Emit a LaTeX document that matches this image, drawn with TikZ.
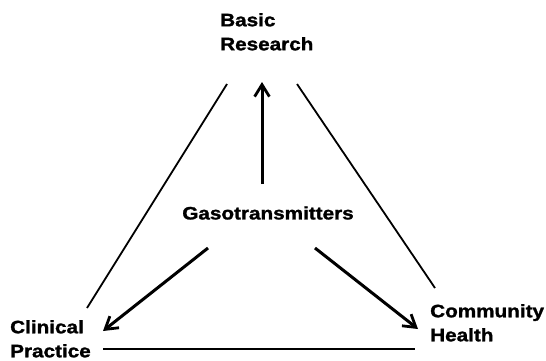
\documentclass[tikz,border=0pt]{standalone}
\usepackage{fontspec}
\setmainfont{Liberation Sans}[FakeStretch=1.15,BoldFeatures={FakeBold=1.5}]
\usetikzlibrary{arrows.meta}
\tikzset{
  lbl/.style={font=\bfseries\fontsize{18}{24}\selectfont,align=left,inner sep=0pt,anchor=north west},
  edge/.style={line width=1.8pt,black},
  ar/.style={-{Straight Barb[length=4.2mm,width=5.2mm,line width=2.8pt]},line width=3pt,black}
}
\begin{document}
\begin{tikzpicture}[x=1pt,y=-1pt]
\useasboundingbox (0,0) rectangle (546,360);
% texts
\node[lbl] (basic) at (220,13) {Basic\\Research};
\node[lbl,anchor=center] (gas) at (268,213) {Gasotransmitters};
\node[lbl] (clin) at (10,320) {Clinical\\Practice};
\node[lbl] (comm) at (430,304) {Community\\Health};
% triangle ends
\coordinate (lt) at (227,84);
\coordinate (lb) at (87,308);
\coordinate (rt) at (297,84);
\coordinate (rb) at (435,288);
\coordinate (bl) at (103,349);
\coordinate (br) at (415,349);
\draw[edge] (lb)--(lt);
\draw[edge] (rt)--(rb);
\draw[edge] (bl)--(br);
% arrows out of the centre
\coordinate (up0) at (262,184);
\coordinate (up1) at (262,82);
\coordinate (dl0) at (208,248);
\coordinate (dl1) at (103,331);
\coordinate (dr0) at (315,248);
\coordinate (dr1) at (418,329);
\draw[ar] (up0)--(up1);
\draw[ar] (dl0)--(dl1);
\draw[ar] (dr0)--(dr1);
\end{tikzpicture}
\end{document}
